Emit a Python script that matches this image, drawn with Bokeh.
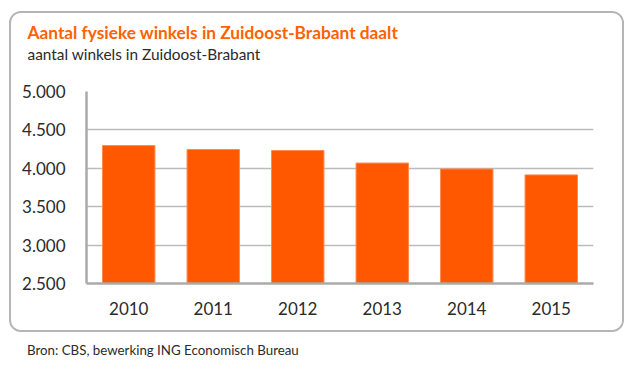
from bokeh.plotting import figure
from bokeh.models import Title, Div, CustomJSTickFormatter, FixedTicker
from bokeh.layouts import column
from bokeh.embed import file_html
from bokeh.resources import INLINE

years = ["2010", "2011", "2012", "2013", "2014", "2015"]
winkels = [4296, 4245, 4232, 4068, 3991, 3914]
y_ticks = [2500, 3000, 3500, 4000, 4500, 5000]

title_text = "Aantal fysieke winkels in Zuidoost-Brabant daalt"
subtitle_text = "aantal winkels in Zuidoost-Brabant"
source_text = "Bron: CBS, bewerking ING Economisch Bureau"

FONT = "Lato"
ORANGE = "#FF6200"
BAR = "#FF5800"
TXT = "#2b2b2b"

p = figure(width=615, height=321, x_range=years, y_range=(2500, 5000),
           output_backend="svg", toolbar_location=None,
           min_border_left=75, min_border_right=33, min_border_top=78, min_border_bottom=51)
p.outline_line_color = None
p.background_fill_color = "white"
p.border_fill_color = "white"
p.margin = (11, 0, 0, 9)
p.styles = {"border": "2px solid #b5b5b5", "border-radius": "12px", "overflow": "hidden"}

# main title (outermost)
p.title.text = title_text
p.title.text_font = FONT
p.title.text_font_style = "bold"
p.title.text_font_size = "17.3px"
p.title.text_color = ORANGE
p.title.align = "left"
p.title.offset = -59
p.title.standoff = 0

# spacer between subtitle and plot frame (closest to frame)
spacer = Title(text=" ", text_font_size="1px", standoff=26)
p.add_layout(spacer, "above")

sub = Title(text=subtitle_text, text_font=FONT, text_font_style="normal",
            text_font_size="15.4px", text_color=TXT, align="left",
            offset=-59, standoff=0)
p.add_layout(sub, "above")

p.vbar(x=years, top=winkels, bottom=2500, width=0.62, fill_color=BAR,
       line_color="#FF8A4C", line_width=1)

p.yaxis.ticker = FixedTicker(ticks=y_ticks)
p.yaxis.formatter = CustomJSTickFormatter(code="return (tick/1000).toFixed(3);")
p.yaxis.major_tick_line_color = None
p.yaxis.minor_tick_line_color = None
p.yaxis.axis_line_color = "#aaaaaa"
p.yaxis.axis_line_width = 2.5
p.yaxis.major_label_text_font = FONT
p.yaxis.major_label_text_font_size = "17px"
p.yaxis.major_label_text_color = TXT
p.yaxis.major_label_standoff = 15

p.xaxis.major_tick_line_color = None
p.xaxis.minor_tick_line_color = None
p.xaxis.axis_line_color = "#aaaaaa"
p.xaxis.axis_line_width = 2.5
p.xaxis.major_label_text_font = FONT
p.xaxis.major_label_text_font_size = "17px"
p.xaxis.major_label_text_color = TXT
p.xaxis.major_label_standoff = 12

p.xgrid.grid_line_color = None
p.ygrid.grid_line_color = "#bbbbbb"
p.ygrid.grid_line_width = 1.5
p.ygrid.ticker = FixedTicker(ticks=y_ticks)

src = Div(text=source_text, width=500, height=20, margin=(9, 0, 0, 27),
          styles={"font-family": FONT, "font-size": "13.3px", "color": TXT})

layout = column(p, src)

open("out.html", "w").write(file_html(layout, INLINE))
